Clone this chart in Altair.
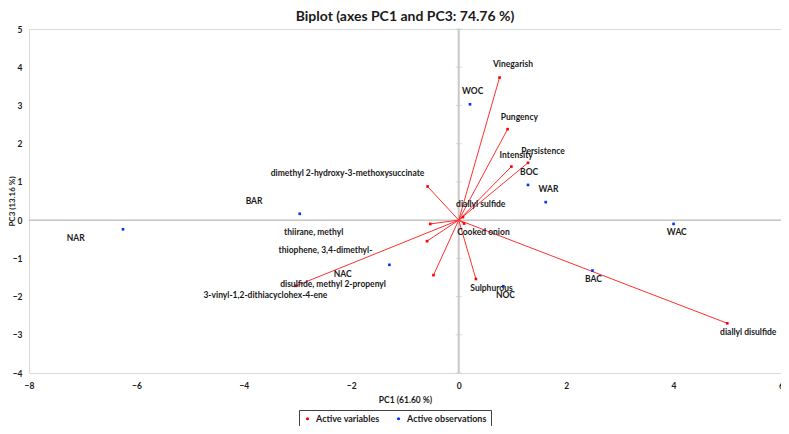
import altair as alt
import pandas as pd

# ---- data ----
var_names = ["Vinegarish", "Pungency", "Intensity", "Persistence",
             "dimethyl 2-hydroxy-3-methoxysuccinate", "diallyl sulfide", "Cooked onion",
             "thiirane, methyl", "thiophene, 3,4-dimethyl-", "disulfide, methyl 2-propenyl",
             "3-vinyl-1,2-dithiacyclohex-4-ene", "Sulphurous", "diallyl disulfide"]
var_x = [0.76, 0.91, 0.98, 1.29, -0.58, 0.08, 0.10, -0.53, -0.59, -0.47, -3.03, 0.32, 5.00]
var_y = [3.73, 2.38, 1.40, 1.50, 0.88, 0.08, -0.09, -0.10, -0.55, -1.44, -1.72, -1.54, -2.70]
var_lx = [1.01, 1.13, 1.07, 1.57, -2.07, 0.41, 0.46, -2.70, -2.48, -2.34, -3.60, 0.61, 5.39]
var_ly = [4.08, 2.70, 1.71, 1.81, 1.22, 0.42, -0.32, -0.32, -0.79, -1.68, -1.96, -1.78, -2.94]

obs_names = ["WOC", "BOC", "WAR", "WAC", "BAC", "NOC", "NAC", "BAR", "NAR"]
obs_x = [0.21, 1.29, 1.62, 4.00, 2.49, 0.83, -1.29, -2.96, -6.25]
obs_y = [3.03, 0.92, 0.47, -0.10, -1.32, -1.73, -1.17, 0.165, -0.24]
obs_lx = [0.26, 1.31, 1.67, 4.06, 2.51, 0.87, -2.16, -3.81, -7.13]
obs_ly = [3.38, 1.26, 0.81, -0.32, -1.54, -1.95, -1.41, 0.50, -0.46]

x_ticks = [-8, -6, -4, -2, 0, 2, 4, 6]
y_ticks = [-4, -3, -2, -1, 0, 1, 2, 3, 4, 5]

series = ["Active variables", "Active observations"]
series_colors = ["#ff0000", "#0033ff"]

FONT = "Lato"
TXT = "#1a1a1a"

vdf = pd.DataFrame({"name": var_names, "x": var_x, "y": var_y, "lx": var_lx, "ly": var_ly,
                    "x0": [0] * len(var_x), "y0": [0] * len(var_y),
                    "series": [series[0]] * len(var_x)})
odf = pd.DataFrame({"name": obs_names, "x": obs_x, "y": obs_y, "lx": obs_lx, "ly": obs_ly,
                    "series": [series[1]] * len(obs_x)})
pts = pd.concat([vdf[["x", "y", "series"]], odf[["x", "y", "series"]]])

xs = alt.Scale(domain=[-8, 6], nice=False, zero=False)
ys = alt.Scale(domain=[-4, 5], nice=False, zero=False)

xaxis = alt.Axis(values=x_ticks, grid=False, domain=False, ticks=False, labelPadding=8,
                 title="PC1 (61.60 %)", titlePadding=6, labelFlush=False, labelOverlap=False)
yaxis = alt.Axis(values=y_ticks, grid=False, domain=False, ticks=False, labelPadding=7,
                 title="PC3 (13.16 %)", titleX=-17, titleY=172, titleAngle=270,
                 titleAlign="center", titleBaseline="middle", titleFontSize=8,
                 labelFlush=False, labelOverlap=False)


def X(field):
    return alt.X(field, scale=xs, axis=xaxis)


def Y(field):
    return alt.Y(field, scale=ys, axis=yaxis)


# zero lines
hline = alt.Chart(pd.DataFrame({"v": [0]})).mark_rule(color="#a6a6a6", strokeWidth=1).encode(
    y=Y("v:Q"))
vline = alt.Chart(pd.DataFrame({"v": [0]})).mark_rule(color="#c8c8c8", strokeWidth=2).encode(
    x=X("v:Q"))
ticks = alt.Chart(pd.DataFrame({"t": y_ticks, "z": [0] * len(y_ticks)})).mark_tick(
    orient="horizontal", size=6, color="#c8c8c8", thickness=1).encode(
    x=X("z:Q"), y=Y("t:Q"))

arrows = alt.Chart(vdf).mark_rule(color="#ff3030", strokeWidth=1).encode(
    x=X("x0:Q"), y=Y("y0:Q"), x2="x:Q", y2="y:Q")

points = alt.Chart(pts).mark_square(size=7, opacity=1).encode(
    x=X("x:Q"), y=Y("y:Q"),
    color=alt.Color("series:N", scale=alt.Scale(domain=series, range=series_colors),
                    legend=alt.Legend(title=None, orient="none", legendX=270, legendY=381,
                                      direction="horizontal", strokeColor="#404040",
                                      padding=4, symbolType="circle", symbolSize=10,
                                      labelFont=FONT, labelFontSize=9, labelFontWeight="bold",
                                      labelColor=TXT, columnPadding=14, symbolOffset=0)))

vlabels = alt.Chart(vdf).mark_text(font=FONT, fontSize=8.5, fontWeight="bold", color=TXT).encode(
    x=X("lx:Q"), y=Y("ly:Q"), text="name:N")
olabels = alt.Chart(odf).mark_text(font=FONT, fontSize=8.5, fontWeight="bold", color=TXT).encode(
    x=X("lx:Q"), y=Y("ly:Q"), text="name:N")

chart = alt.layer(hline, vline, ticks, arrows, points, vlabels, olabels).properties(
    width=752, height=344,
    title=alt.TitleParams("Biplot (axes PC1 and PC3: 74.76 %)", font=FONT, fontSize=14,
                          fontWeight="bold", color=TXT, anchor="middle", frame="group", offset=1),
    autosize=alt.AutoSizeParams(type="none"),
    padding={"left": 21, "top": 21, "right": 0, "bottom": 53},
).configure_view(stroke="#d9d9d9", strokeWidth=1).configure_axis(
    labelFont=FONT, labelFontSize=8.5, labelFontWeight="bold", labelColor=TXT,
    titleFont=FONT, titleFontSize=8.5, titleFontWeight="bold", titleColor=TXT)

chart.save("out.html", embed_options={"renderer": "svg", "actions": False})
